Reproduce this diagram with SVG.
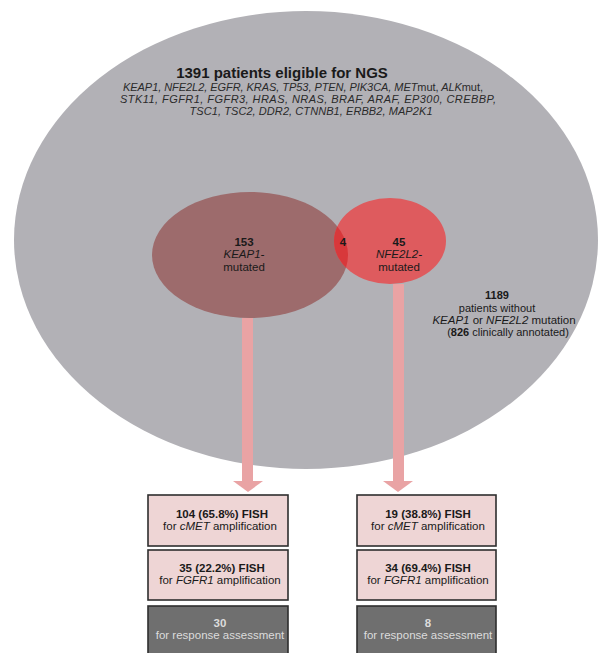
<svg xmlns="http://www.w3.org/2000/svg" width="600" height="653" viewBox="0 0 600 653">
<style>
text{font-family:"Liberation Sans",Arial,sans-serif;fill:#1a1a1a;text-anchor:middle}
.b{font-weight:bold}
.i{font-style:italic}
.n{font-style:normal}
.genes{font-size:11px;font-style:italic;fill:#2a2a2a}
.bx{fill:#eed5d5;stroke:#2e2e2e;stroke-width:1.6}
.gbx{fill:#6f6f6f;stroke:#2e2e2e;stroke-width:1.6}
.bt{font-size:11.5px}
.gt{font-size:11.5px;fill:#dcdcdc}
.arr{fill:#e9a3a4}
</style>
<defs>
<clipPath id="kc"><ellipse cx="250" cy="255" rx="98" ry="63"/></clipPath>
</defs>
<rect width="600" height="653" fill="#ffffff"/>
<g id="all-patients">
<ellipse cx="306" cy="240" rx="292" ry="229" fill="#b2b1b6"/>
<text x="282" y="78" class="b" font-size="15">1391 patients eligible for NGS</text>
<text class="genes" x="303" y="91" textLength="360" lengthAdjust="spacing">KEAP1, NFE2L2, EGFR, KRAS, TP53, PTEN, PIK3CA, MET<tspan class="n">mut,</tspan> ALK<tspan class="n">mut,</tspan></text>
<text class="genes" x="308" y="103" textLength="376" lengthAdjust="spacing">STK11, FGFR1, FGFR3, HRAS, NRAS, BRAF, ARAF, EP300, CREBBP,</text>
<text class="genes" x="311" y="115" textLength="243" lengthAdjust="spacing">TSC1, TSC2, DDR2, CTNNB1, ERBB2, MAP2K1</text>
</g>
<g id="connectors">
<rect class="arr" x="242" y="318" width="11" height="164"/>
<polygon class="arr" points="233,481 263,481 248,492"/>
<rect class="arr" x="393" y="284" width="11" height="198"/>
<polygon class="arr" points="383,481 413,481 398,492"/>
</g>
<g id="keap1">
<ellipse cx="250" cy="255" rx="98" ry="63" fill="#9d6b6c"/>
<text x="244" y="246" class="b" font-size="11.5">153</text>
<text x="244" y="258" class="i" font-size="11.5">KEAP1-</text>
<text x="244" y="271" font-size="11.5">mutated</text>
</g>
<g id="nfe2l2">
<ellipse cx="390" cy="241" rx="56" ry="43" fill="#de5b5e"/>
<ellipse cx="390" cy="241" rx="56" ry="43" fill="#d8383b" clip-path="url(#kc)"/>
<text x="343" y="246" class="b" font-size="11.5">4</text>
<text x="399" y="246" class="b" font-size="11.5">45</text>
<text x="399" y="258" class="i" font-size="11.5">NFE2L2-</text>
<text x="399" y="271" font-size="11.5">mutated</text>
</g>
<g id="no-mutation">
<text x="497" y="299" class="b" font-size="11">1189</text>
<text x="497" y="312" font-size="11">patients without</text>
<text x="504" y="324" font-size="11.5"><tspan class="i">KEAP1</tspan> or <tspan class="i">NFE2L2</tspan> mutation</text>
<text x="508" y="336" font-size="11">(<tspan class="b">826</tspan> clinically annotated)</text>
</g>
<g id="keap1-cmet">
<rect class="bx" x="148" y="495" width="140" height="51"/>
<text x="222" y="518" class="bt b">104 (65.8%) FISH</text>
<text x="220" y="530" class="bt">for <tspan class="i">cMET</tspan> amplification</text>
</g>
<g id="keap1-fgfr1">
<rect class="bx" x="148" y="550" width="140" height="50"/>
<text x="222" y="572" class="bt b">35 (22.2%) FISH</text>
<text x="220" y="584" class="bt">for <tspan class="i">FGFR1</tspan> amplification</text>
</g>
<g id="keap1-response">
<rect class="gbx" x="148" y="606" width="140" height="52"/>
<text x="220" y="627" class="gt b">30</text>
<text x="220" y="639" class="gt">for response assessment</text>
</g>
<g id="nfe2l2-cmet">
<rect class="bx" x="357" y="495" width="139" height="51"/>
<text x="428" y="518" class="bt b">19 (38.8%) FISH</text>
<text x="428" y="530" class="bt">for <tspan class="i">cMET</tspan> amplification</text>
</g>
<g id="nfe2l2-fgfr1">
<rect class="bx" x="357" y="550" width="139" height="50"/>
<text x="428" y="572" class="bt b">34 (69.4%) FISH</text>
<text x="428" y="584" class="bt">for <tspan class="i">FGFR1</tspan> amplification</text>
</g>
<g id="nfe2l2-response">
<rect class="gbx" x="357" y="606" width="139" height="52"/>
<text x="428" y="627" class="gt b">8</text>
<text x="428" y="639" class="gt">for response assessment</text>
</g>
</svg>
